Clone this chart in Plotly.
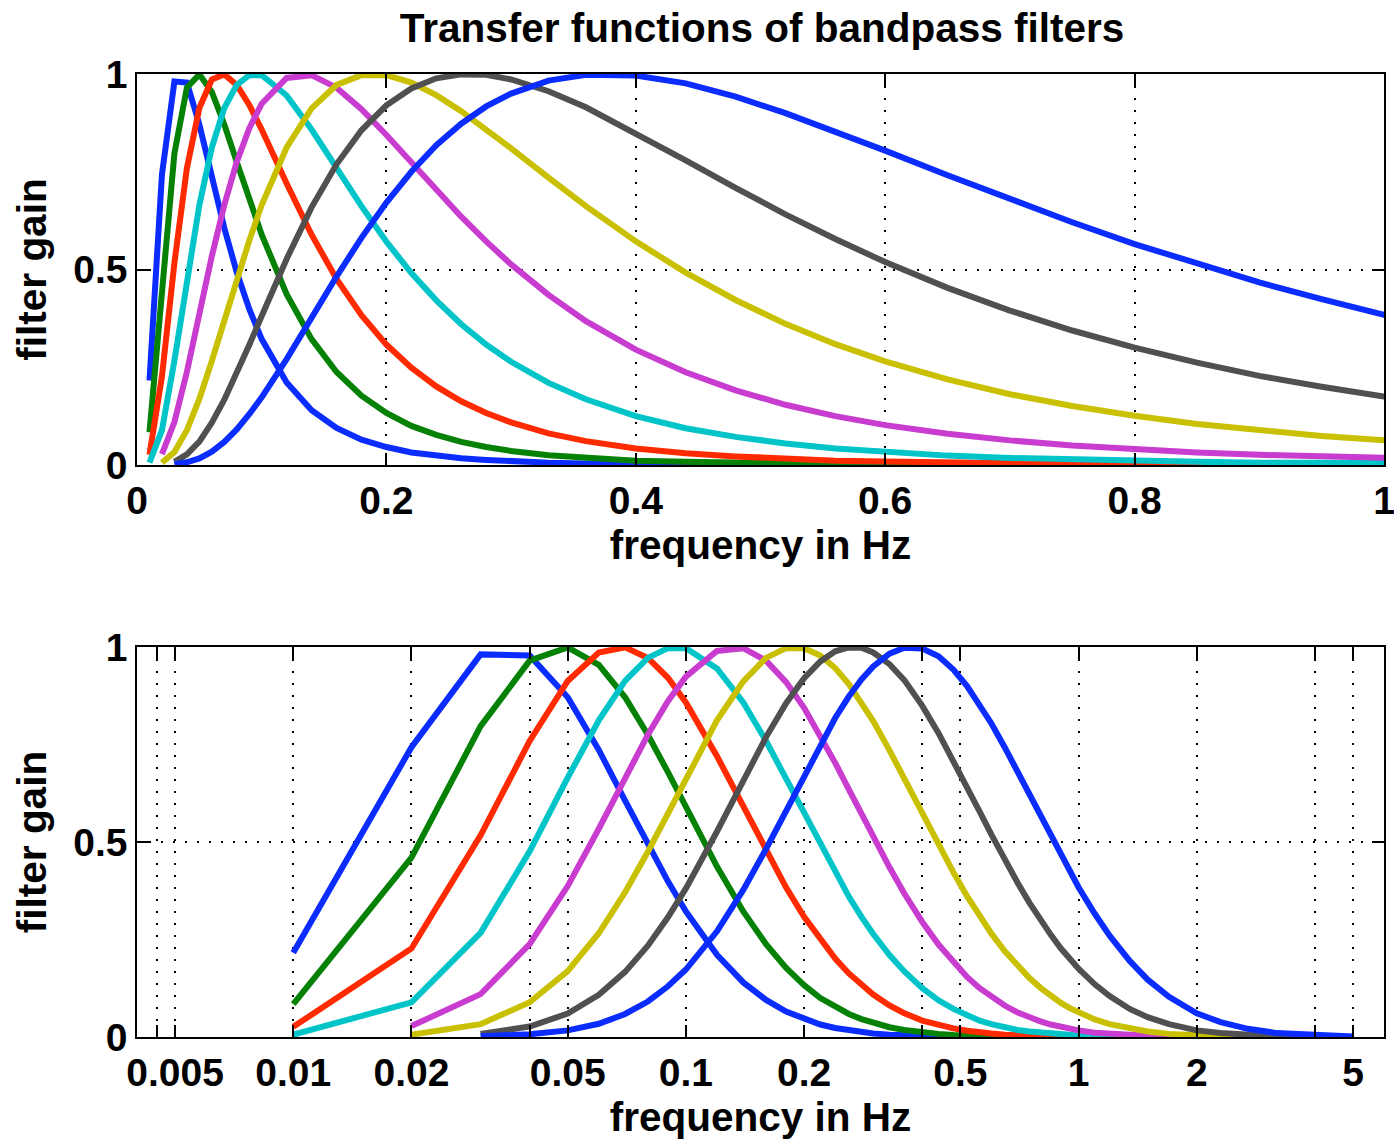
import plotly.graph_objects as go

freq = [0.01, 0.02, 0.03, 0.04, 0.05, 0.06, 0.07, 0.08, 0.09, 0.10,
        0.12, 0.14, 0.16, 0.18, 0.20, 0.22, 0.24, 0.26, 0.28, 0.30,
        0.33, 0.36, 0.40, 0.44, 0.48, 0.52, 0.56, 0.60, 0.65, 0.70,
        0.75, 0.80, 0.85, 0.90, 0.95, 1.0, 1.1, 1.2, 1.35, 1.5,
        1.7, 2.0, 2.3, 2.7, 3.2, 4.0, 5.0]

blue1 = [0.216, 0.743, 0.981, 0.978, 0.871, 0.736, 0.606, 0.493, 0.399, 0.322,
         0.211, 0.140, 0.095, 0.065, 0.046, 0.032, 0.023, 0.017, 0.013, 0.009,
         0.006, 0.004, 0.003, 0.002, 0.001, 0.001, 0, 0, 0, 0,
         0, 0, 0, 0, 0, 0, 0, 0, 0, 0,
         0, 0, 0, 0, 0, 0, 0]
green = [0.084, 0.460, 0.797, 0.965, 0.999, 0.954, 0.871, 0.775, 0.679, 0.589,
         0.437, 0.322, 0.238, 0.177, 0.133, 0.100, 0.077, 0.059, 0.046, 0.036,
         0.025, 0.018, 0.011, 0.008, 0.005, 0.004, 0.003, 0.002, 0.001, 0.001,
         0.001, 0, 0, 0, 0, 0, 0, 0, 0, 0,
         0, 0, 0, 0, 0, 0, 0]
red = [0.026, 0.227, 0.517, 0.759, 0.913, 0.986, 0.999, 0.972, 0.921, 0.858,
       0.720, 0.589, 0.476, 0.383, 0.308, 0.249, 0.201, 0.163, 0.133, 0.109,
       0.081, 0.061, 0.042, 0.030, 0.022, 0.016, 0.011, 0.009, 0.006, 0.004,
       0.003, 0.002, 0.002, 0.001, 0.001, 0.001, 0, 0, 0, 0,
       0, 0, 0, 0, 0, 0, 0]
cyan = [0.006, 0.089, 0.267, 0.476, 0.665, 0.812, 0.913, 0.972, 0.997, 0.997,
        0.945, 0.858, 0.759, 0.662, 0.571, 0.491, 0.421, 0.360, 0.308, 0.264,
        0.210, 0.168, 0.125, 0.094, 0.072, 0.055, 0.042, 0.033, 0.024, 0.018,
        0.014, 0.011, 0.008, 0.006, 0.005, 0.004, 0.002, 0.002, 0.001, 0.001,
        0, 0, 0, 0, 0, 0, 0]
magenta = [None, 0.028, 0.110, 0.238, 0.387, 0.534, 0.665, 0.775, 0.861, 0.924,
           0.990, 0.997, 0.965, 0.910, 0.844, 0.773, 0.703, 0.635, 0.572, 0.513,
           0.435, 0.368, 0.295, 0.237, 0.191, 0.154, 0.125, 0.102, 0.080, 0.063,
           0.050, 0.040, 0.032, 0.026, 0.021, 0.017, 0.011, 0.008, 0.005, 0.003,
           0.002, 0.001, 0, 0, 0, 0, 0]
yellow = [None, 0.006, 0.033, 0.089, 0.169, 0.266, 0.371, 0.475, 0.574, 0.665,
          0.812, 0.912, 0.972, 0.997, 0.997, 0.978, 0.946, 0.905, 0.859, 0.810,
          0.735, 0.662, 0.572, 0.492, 0.422, 0.361, 0.309, 0.265, 0.219, 0.181,
          0.151, 0.126, 0.105, 0.088, 0.074, 0.063, 0.045, 0.033, 0.021, 0.014,
          0.008, 0.004, 0.002, 0.001, 0, 0, 0]
gray = [None, None, 0.008, 0.027, 0.060, 0.108, 0.167, 0.234, 0.307, 0.381,
        0.527, 0.659, 0.769, 0.856, 0.920, 0.963, 0.989, 0.999, 0.998, 0.986,
        0.956, 0.915, 0.849, 0.779, 0.709, 0.641, 0.578, 0.519, 0.453, 0.395,
        0.344, 0.300, 0.262, 0.228, 0.200, 0.175, 0.135, 0.105, 0.072, 0.051,
        0.033, 0.017, 0.010, 0.005, 0.002, 0.001, 0]
blue2 = [None, None, 0.002, 0.007, 0.017, 0.034, 0.059, 0.091, 0.130, 0.173,
         0.271, 0.377, 0.482, 0.581, 0.671, 0.750, 0.818, 0.873, 0.917, 0.950,
         0.983, 0.998, 0.996, 0.976, 0.942, 0.900, 0.853, 0.804, 0.741, 0.680,
         0.621, 0.565, 0.514, 0.467, 0.424, 0.384, 0.316, 0.260, 0.195, 0.147,
         0.103, 0.061, 0.038, 0.021, 0.010, 0.004, 0.001]

series = [blue1, green, red, cyan, magenta, yellow, gray, blue2]
colors = ["#0a2cff", "#058205", "#ff2a00", "#00c4c8", "#c83cd0", "#c8c000", "#505050", "#0a2cff"]

top_xticks = [0, 0.2, 0.4, 0.6, 0.8, 1]
top_xlabels = ["0", "0.2", "0.4", "0.6", "0.8", "1"]
y_ticks = [0, 0.5, 1]
y_labels = ["0", "0.5", "1"]
log_ticks = [0.0045, 0.005, 0.01, 0.02, 0.04, 0.05, 0.1, 0.2, 0.4, 0.5, 1, 2, 4, 5]
log_labels = ["", "0.005", "0.01", "0.02", "", "0.05", "0.1", "0.2", "", "0.5", "1", "2", "", "5"]

title_text = "Transfer functions of bandpass filters"
xlabel = "frequency in Hz"
ylabel = "filter gain"

FAM = "Liberation Sans, Arial, sans-serif"
TICKFONT = dict(family=FAM, size=39, color="black", weight="bold")
TITLEFONT = dict(family=FAM, size=40.5, color="black", weight="bold")

fig = go.Figure()
for ys, col in zip(series, colors):
    for xa, ya in (("x", "y"), ("x2", "y2")):
        fig.add_trace(go.Scatter(x=freq, y=ys, mode="lines",
                                 line=dict(color=col, width=6),
                                 xaxis=xa, yaxis=ya, showlegend=False,
                                 hoverinfo="skip", connectgaps=False))

W, H = 1394, 1142
xdom = [137 / W, 1384 / W]
top_dom = [1 - 465 / H, 1 - 74 / H]
bot_dom = [1 - 1037 / H, 1 - 647 / H]

axis_common = dict(showline=True, linecolor="black", linewidth=1.5, mirror="ticks",
                   ticks="inside", ticklen=12, tickwidth=1.5, tickcolor="black",
                   showgrid=True, gridcolor="black", gridwidth=2, griddash="2px,10px",
                   zeroline=False, tickfont=TICKFONT, automargin=False,
                   ticklabeloverflow="allow")

fig.update_layout(
    width=W, height=H,
    margin=dict(l=0, r=0, t=0, b=0),
    paper_bgcolor="white", plot_bgcolor="white",
    font=TICKFONT,
    title=dict(text=title_text, x=762 / W, xref="paper", xanchor="center",
               y=1 - 28 / H, yref="container", yanchor="middle", font=TITLEFONT),
    xaxis=dict(domain=xdom, range=[0, 1], tickvals=top_xticks, ticktext=top_xlabels,
               anchor="y", title=dict(text=xlabel, font=TITLEFONT, standoff=2), **axis_common),
    yaxis=dict(domain=top_dom, range=[0, 1], tickvals=y_ticks, ticktext=y_labels,
               anchor="x", title=dict(text=ylabel, font=TITLEFONT, standoff=14), **axis_common),
    xaxis2=dict(domain=xdom, type="log", range=[-2.398, 0.778], tickvals=log_ticks,
                ticktext=log_labels, anchor="y2",
                title=dict(text=xlabel, font=TITLEFONT, standoff=2), **axis_common),
    yaxis2=dict(domain=bot_dom, range=[0, 1], tickvals=y_ticks, ticktext=y_labels,
                anchor="x2", title=dict(text=ylabel, font=TITLEFONT, standoff=14), **axis_common),
)

fig.write_html("out.html")
